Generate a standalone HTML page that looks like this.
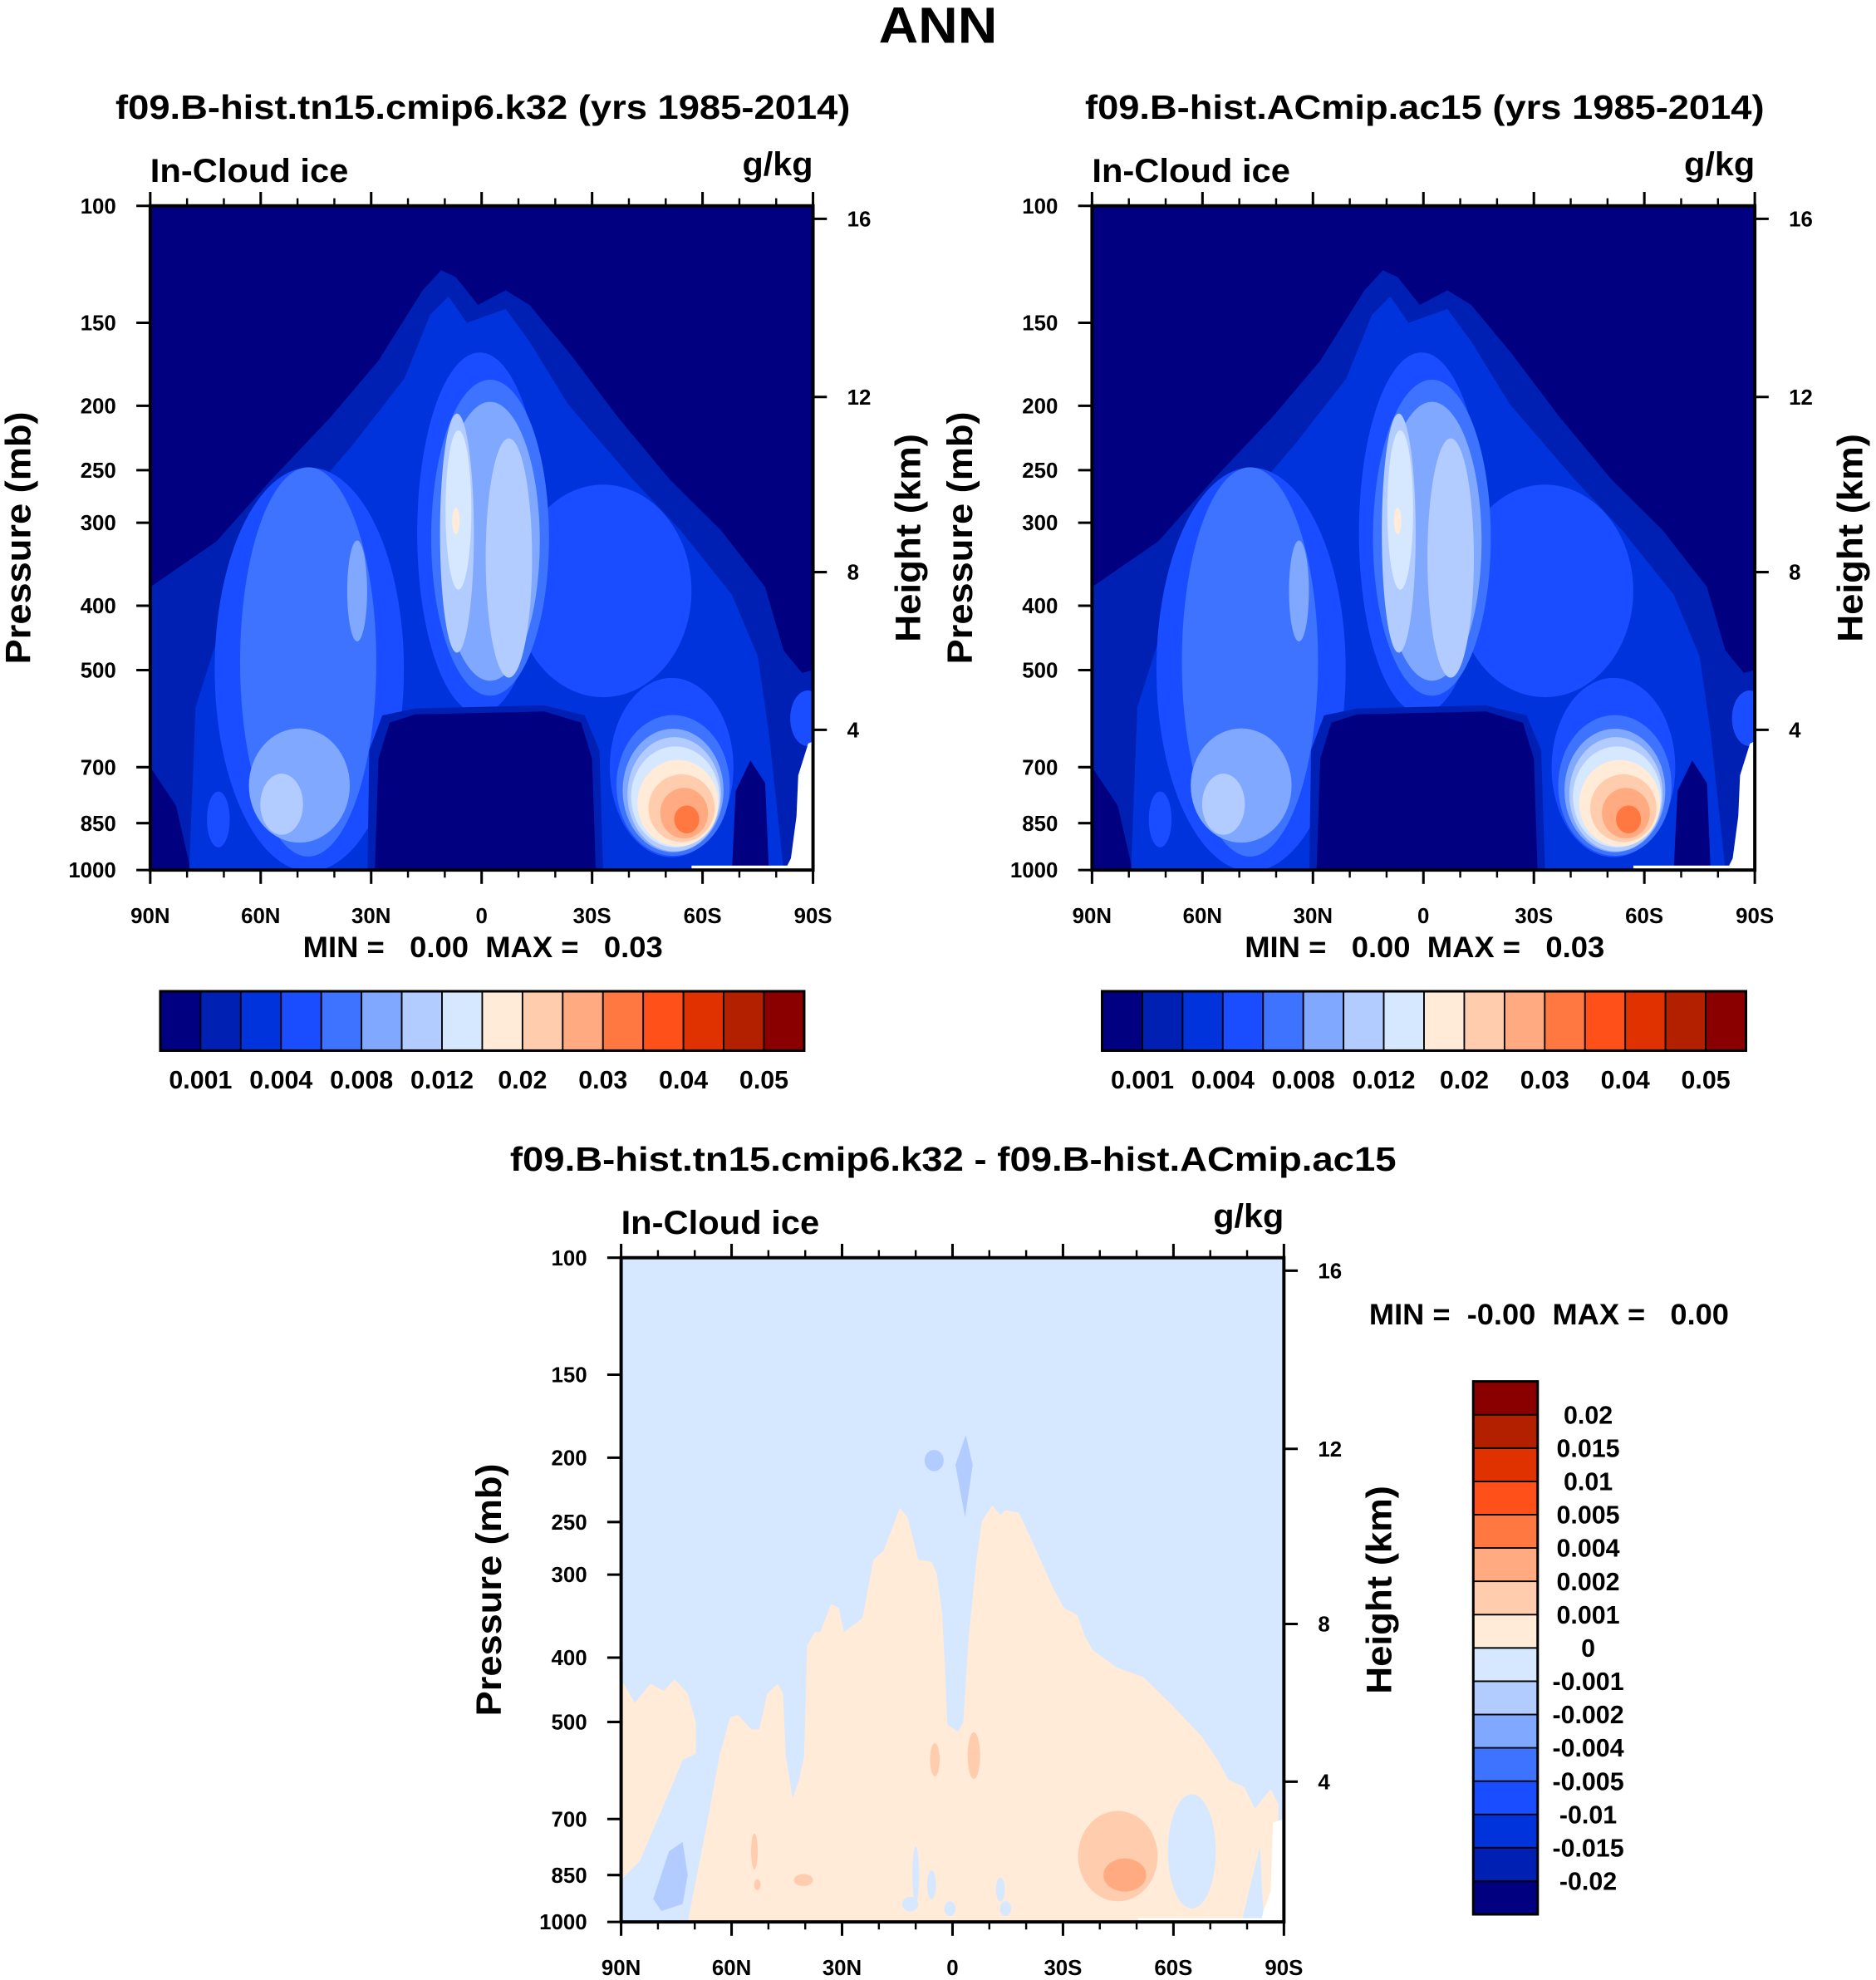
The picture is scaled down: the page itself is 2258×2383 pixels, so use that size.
<!DOCTYPE html>
<html><head><meta charset="utf-8"><style>
html,body{margin:0;padding:0;background:#fff;}
svg{display:block;}
text{font-family:"Liberation Sans",Arial,sans-serif;font-weight:bold;fill:#000;}
</style></head><body>
<svg id="fig" xmlns="http://www.w3.org/2000/svg" width="2258" height="2383" viewBox="0 0 1486 1568" preserveAspectRatio="none">
<text x="743" y="34" text-anchor="middle" font-size="40" textLength="94" lengthAdjust="spacingAndGlyphs">ANN</text>
<g id="root"></g>
</svg>
<script>
// ===== colour levels =====
const palette = ["#000080","#0020B4","#0033DC","#1A4DFF","#3D73FF","#80A8FF","#B3CCFF","#D6E8FF","#FFEBD8","#FFCCAE","#FFAA80","#FF7842","#FF5019","#E03200","#B32000","#8A0000"];
const topLevelLabels = ["0.001","0.004","0.008","0.012","0.02","0.03","0.04","0.05"];
const diffLevelLabels = ["0.02","0.015","0.01","0.005","0.004","0.002","0.001","0","-0.001","-0.002","-0.004","-0.005","-0.01","-0.015","-0.02"];
// ===== axes data =====
const pressureTicks = [100,150,200,250,300,400,500,700,850,1000];
const heightTicks = ["16","12","8","4"];
const heightTickPressures = [104.6,194,356,615];
const latTicks = [90,60,30,0,-30,-60,-90];
const latTickLabels = ["90N","60N","30N","0","30S","60S","90S"];
const latMinorTicks = [80,70,50,40,20,10,-10,-20,-40,-50,-70,-80];
// ===== top panel field: contour polygons [lat, pressure] =====
const topEnvelope1 = [[90,375],[72,320],[57,258],[41,208],[28,171],[16,134],[11,125],[7,128],[1,141],[-6.5,134],[-13,141],[-24,167],[-37,208],[-51,258],[-65,308],[-77,375],[-82,467],[-87,505],[-90,500],[-90,1000],[79,1000],[83,800],[90,700]];
const topEnvelope2 = [[79.4,1000],[77.7,569],[69,400],[52,295],[35,229],[21,182],[14,146],[9,137],[4,150],[-6.5,143],[-13,160],[-23.5,199],[-41,258],[-54,308],[-68,385],[-75,477],[-78,621],[-82,1000]];
const topHoleBorder = [[31,1000],[30.5,660],[27,585],[18,571],[0,568],[-17,565],[-28,585],[-32,660],[-33,1000]];
const topHole = [[29,1000],[28,680],[25,600],[18,583],[0,580],[-17,577],[-27,600],[-30,680],[-31,1000]];
const topNavyPatch = [[-68,1000],[-69,760],[-73,684],[-77,740],[-78,1000]];
const topMissing = [[-57,1000],[-57,985],[-83,985],[-84,960],[-85.5,830],[-86,720],[-88.7,645],[-90,640],[-90,1000]];
// blobs: [lat, pressure, half-width deg, half-height decades, level]
const topBlobs = [
 [46.8,499,25.7,0.304,3],[-51.6,701,16.8,0.135,3],[-33,380,24,0.16,3],[0.5,311,17,0.272,3],[71.5,839,3.1,0.042,3],[-88.6,591,4.8,0.042,3],
 [47.1,486,18.5,0.293,4],[-2.3,316,16,0.238,4],[-52,746,15.4,0.106,4],
 [33.8,380,2.7,0.076,5],[49.5,746,13.7,0.086,5],[-2.3,320,13.5,0.21,5],[-52,759,13.7,0.093,5],
 [54.3,796,5.8,0.046,6],[6.7,311,4.6,0.18,6],[-7.4,339,6.3,0.18,6],[-52.3,769,12.7,0.086,6],
 [6.3,287,3.5,0.12,7],[-52.6,776,12,0.076,7],
 [7,298,1,0.02,8],[-53.3,793,11,0.065,8],
 [-54.3,807,9,0.051,9],
 [-55,821,6.5,0.038,10],
 [-55.7,839,3.4,0.021,11]
];
// ===== difference field =====
const diffCreamMain = [[63.3,562],[60.4,492],[58.2,488],[54.7,513],[52.5,513],[50.3,453],[47.5,438],[46,453],[45.3,562],[43.4,652],[41.7,611],[40.3,562],[39.5,384],[37.4,366],[35.9,366],[33,332],[30.9,337],[29.5,366],[25.9,354],[24.4,348],[21.5,285],[18.7,276],[14.3,238],[12.2,246],[9.3,285],[5.7,287],[4.3,299],[2.8,343],[2.1,410],[1.4,505],[-1.5,517],[-2.9,501],[-4.4,372],[-6.5,285],[-8,249],[-10.8,236],[-13,244],[-14.4,240],[-18,242],[-21.6,267],[-27.4,315],[-30.3,337],[-33.9,345],[-36,372],[-38.2,390],[-44.6,414],[-51.8,428],[-59,468],[-67.7,526],[-72,570],[-74.9,611],[-79.2,626],[-82.1,675],[-86.4,631],[-88.5,664],[-88.5,709],[-88.5,1000],[71.9,1000],[66.9,721]];
const diffCreamLeft = [[90,431],[86.3,468],[82,438],[78.4,449],[75.5,431],[71.9,453],[69.7,501],[69.7,558],[73.3,570],[75.5,611],[80.5,709],[84.9,809],[90,865]];
const diffNegLeft = [[81.3,924],[77,783],[73.3,758],[71.9,850],[73.3,940],[79.1,963]];
const diffNegEdge = [[-78.5,1000],[-83.5,770],[-84.5,1000]];
const diffNegDrip = [[-0.8,205],[-3.6,185],[-5.5,205],[-3.4,246]];
const diffMissing = [[-50.4,1000],[-50.4,987],[-84,987],[-84.5,960],[-86.4,900],[-87,709],[-90,700],[-90,1000]];
const diffBlobs = [
 [-65,783,6.5,0.086,7],[10,850,0.9,0.043,7],[5.7,879,1.2,0.022,7],[-13,894,1.2,0.018,7],[11.5,940,2.2,0.011,7],[0.7,955,1.5,0.011,7],[-14.4,955,1.5,0.011,7],
 [-61.9,837,2.2,0.032,6],[5,202,2.6,0.016,6],
 [-44.9,796,10.8,0.068,9],[4.8,570,1.3,0.025,9],[-5.8,562,1.7,0.035,9],[53.8,783,0.9,0.027,9],[40.5,865,2.6,0.009,9],[53,879,0.9,0.008,9],
 [-46.8,850,5.8,0.025,10]
];

const NS = "http://www.w3.org/2000/svg";
const root = document.getElementById('root');
function mk(tag, attrs, parent){const e=document.createElementNS(NS,tag);for(const k in attrs)e.setAttribute(k,attrs[k]);(parent||root).appendChild(e);return e;}
function txt(parent,x,y,s,size,anchor,extra){const t=mk('text',Object.assign({x:x,y:y,'font-size':size,'text-anchor':anchor||'start'},extra||{}),parent);t.textContent=s;return t;}

function makePanel(x0,y0,id){
  const W=525,H=526;
  return {x0,y0,W,H,id,
    x:lat=>x0+(90-lat)/180*W,
    y:p=>y0+H-Math.log10(1000/p)*H};
}
function polyPath(P,pts){return 'M'+pts.map(q=>P.x(q[0]).toFixed(1)+','+P.y(q[1]).toFixed(1)).join('L')+'Z';}

function drawField(P,g,bgLevel,polys,blobs,extraAfter){
  mk('rect',{x:P.x0,y:P.y0,width:P.W,height:P.H,fill:palette[bgLevel]},g);
  polys.forEach(pl=>{
    const e=mk('path',{d:polyPath(P,pl.pts),fill:pl.fill},g);
    
    
  });
  blobs.slice().sort((a,b)=>a[4]-b[4]).forEach(b=>{
    const e=mk('ellipse',{cx:P.x(b[0]),cy:P.y(b[1]),rx:b[2]/180*P.W,ry:b[3]*P.H,fill:palette[b[4]]},g);
    
    
  });
  extraAfter.forEach(pl=>{
    const e=mk('path',{d:polyPath(P,pl.pts),fill:pl.fill},g);
    
    
  });
}

function drawAxes(P,g){
  const R=P.x0+P.W, B=P.y0+P.H;
  mk('rect',{x:P.x0,y:P.y0,width:P.W,height:P.H,fill:'none',stroke:'#000','stroke-width':2.6},g);
  pressureTicks.forEach(p=>{
    const y=P.y(p);
    mk('line',{x1:P.x0-11,y1:y,x2:P.x0,y2:y,stroke:'#000','stroke-width':2},g);
    const t=txt(g,P.x0-27,y+6,String(p),17,'end');
    
    
  });
  heightTicks.forEach((h,i)=>{
    const y=P.y(heightTickPressures[i]);
    mk('line',{x1:R,y1:y,x2:R+11,y2:y,stroke:'#000','stroke-width':2},g);
    const t=txt(g,R+27,y+6,h,17,'start');
    
    
  });
  latTicks.forEach((l,i)=>{
    const x=P.x(l);
    mk('line',{x1:x,y1:P.y0-11,x2:x,y2:P.y0,stroke:'#000','stroke-width':2},g);
    mk('line',{x1:x,y1:B,x2:x,y2:B+11,stroke:'#000','stroke-width':2},g);
    const t=txt(g,x,B+42,latTickLabels[i],17,'middle');
    
    
  });
  latMinorTicks.forEach(l=>{
    const x=P.x(l);
    mk('line',{x1:x,y1:P.y0-6,x2:x,y2:P.y0,stroke:'#000','stroke-width':1.6},g);
    mk('line',{x1:x,y1:B,x2:x,y2:B+6,stroke:'#000','stroke-width':1.6},g);
  });
  let t=txt(g,P.x0,P.y0-19,'In-Cloud ice',26,'start',{textLength:157,lengthAdjust:'spacingAndGlyphs'});
  
  
  t=txt(g,R,P.y0-24,'g/kg',26,'end',{textLength:56,lengthAdjust:'spacingAndGlyphs'});
  
  
  const cy=P.y0+P.H/2;
  t=txt(g,0,0,'Pressure (mb)',28,'middle',{transform:`translate(${P.x0-95},${cy}) rotate(-90)`,textLength:200,lengthAdjust:'spacingAndGlyphs'});
  
  
  t=txt(g,0,0,'Height (km)',28,'middle',{transform:`translate(${R+85},${cy}) rotate(-90)`,textLength:165,lengthAdjust:'spacingAndGlyphs'});
  
  
}

function topPanel(x0,title,titleLen,name){
  const P=makePanel(x0,163,name);
  const g=mk('g',{});
  
  
  const cp=mk('clipPath',{id:'clip-'+name},g);
  mk('rect',{x:P.x0,y:P.y0,width:P.W,height:P.H},cp);
  const fg=mk('g',{'clip-path':`url(#clip-${name})`},g);
  drawField(P,fg,0,
    [{pts:topEnvelope1,fill:palette[1],name:'contour-band-1'},{pts:topEnvelope2,fill:palette[2],name:'contour-band-2'}],
    topBlobs,
    [{pts:topHoleBorder,fill:palette[1],name:'hole-border'},{pts:topHole,fill:palette[0],name:'low-level-minimum'},{pts:topNavyPatch,fill:palette[0],name:'polar-minimum'},{pts:topMissing,fill:'#fff',name:'missing-data'}]);
  drawAxes(P,g);
  let t=txt(g,P.x0+P.W/2+1,94,title,27,'middle',{textLength:titleLen,lengthAdjust:'spacingAndGlyphs'});
  
  
  t=txt(g,P.x0+P.W/2+1,758,'MIN =   0.00  MAX =   0.03',23,'middle',{textLength:285,lengthAdjust:'spacingAndGlyphs'});
  t.style.whiteSpace='pre';
  
  
  const cb=mk('g',{},g);
  
  
  const cx0=x0+8, cw=510/16;
  palette.forEach((c,i)=>{
    const r=mk('rect',{x:cx0+i*cw,y:785,width:cw,height:47,fill:c,stroke:'#000','stroke-width':1.2},cb);
    
    
  });
  mk('rect',{x:cx0,y:785,width:510,height:47,fill:'none',stroke:'#000','stroke-width':2},cb);
  topLevelLabels.forEach((s,i)=>{
    const tt=txt(cb,cx0+(2*i+1)*cw,862,s,20,'middle');
    
    
  });
}
topPanel(119,'f09.B-hist.tn15.cmip6.k32 (yrs 1985-2014)',582,'left-panel');
topPanel(865,'f09.B-hist.ACmip.ac15 (yrs 1985-2014)',538,'right-panel');

(function(){
  const P=makePanel(492,996,'diff');
  const g=mk('g',{});
  
  
  const cp=mk('clipPath',{id:'clip-diff'},g);
  mk('rect',{x:P.x0,y:P.y0,width:P.W,height:P.H},cp);
  const fg=mk('g',{'clip-path':'url(#clip-diff)'},g);
  drawField(P,fg,7,
    [{pts:diffCreamMain,fill:palette[8],name:'positive-region'},{pts:diffCreamLeft,fill:palette[8],name:'positive-region-left'},{pts:diffNegLeft,fill:palette[6],name:'negative-blob-left'},{pts:diffNegEdge,fill:palette[7],name:'negative-edge'},{pts:diffNegDrip,fill:palette[6],name:'negative-drip'}],
    diffBlobs,
    [{pts:diffMissing,fill:'#fff',name:'missing-data'}]);
  drawAxes(P,g);
  let t=txt(g,755,927,'f09.B-hist.tn15.cmip6.k32 - f09.B-hist.ACmip.ac15',27,'middle',{textLength:702,lengthAdjust:'spacingAndGlyphs'});
  
  
  t=txt(g,1227,1049,'MIN =  -0.00  MAX =   0.00',23,'middle',{textLength:285,lengthAdjust:'spacingAndGlyphs'});
  t.style.whiteSpace='pre';
  
  
  const cb=mk('g',{},g);
  
  
  const ch=422/16;
  palette.forEach((c,i)=>{
    const r=mk('rect',{x:1167,y:1094+(15-i)*ch,width:51,height:ch,fill:c,stroke:'#000','stroke-width':1.2},cb);
    
    
  });
  mk('rect',{x:1167,y:1094,width:51,height:422,fill:'none',stroke:'#000','stroke-width':2},cb);
  diffLevelLabels.forEach((s,i)=>{
    const tt=txt(cb,1258,1094+(i+1)*ch+7,s,20,'middle');
    
    
  });
})();
</script>
</body></html>
